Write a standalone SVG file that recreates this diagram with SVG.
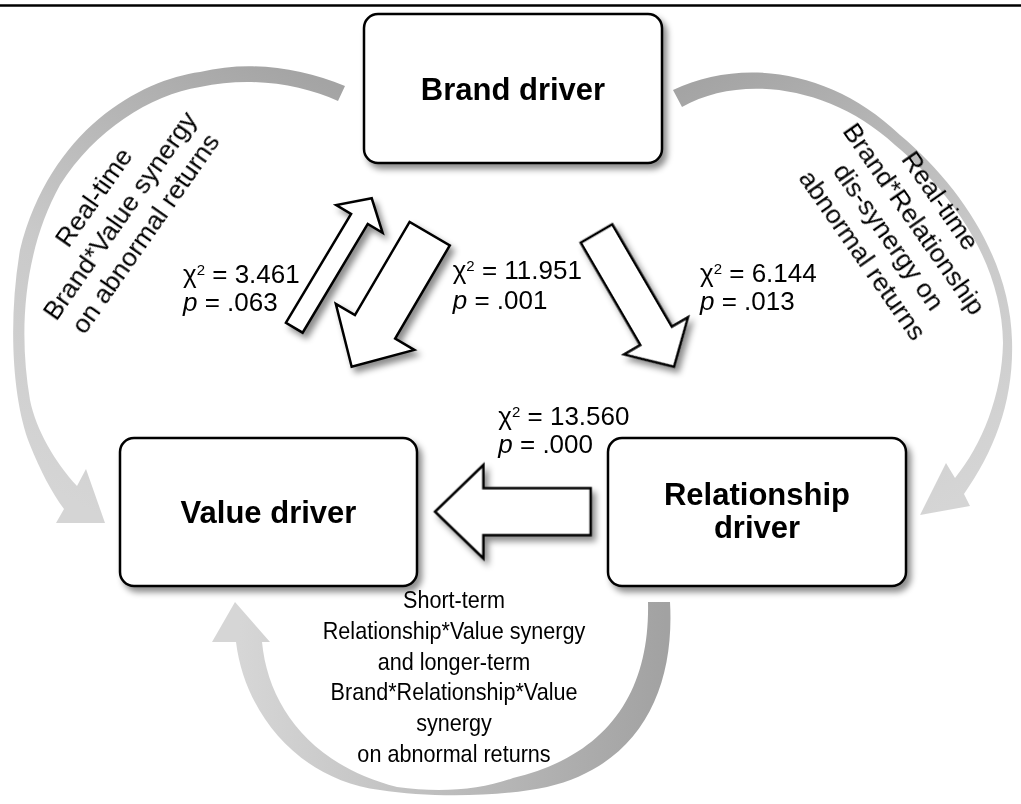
<svg xmlns="http://www.w3.org/2000/svg" width="1021" height="804" viewBox="0 0 1021 804">
<defs>
<style>
text{font-family:"Liberation Sans",Arial,sans-serif;fill:#000}
.node{fill:#fff;stroke:#000;stroke-width:2.5}
.blk{fill:#fff;stroke:#000;stroke-width:2.5;stroke-linejoin:miter}
.title{font-size:31px;font-weight:bold;text-anchor:middle}
.lab{font-size:26px}
.rot{font-size:26.5px;text-anchor:middle}
.bot{font-size:24px;text-anchor:middle}
</style>
<filter id="sh" x="-20%" y="-20%" width="150%" height="150%">
<feGaussianBlur in="SourceAlpha" stdDeviation="3"/>
<feOffset dx="4" dy="5" result="b"/>
<feFlood flood-color="#000" flood-opacity="0.45"/>
<feComposite in2="b" operator="in"/>
<feMerge><feMergeNode/><feMergeNode in="SourceGraphic"/></feMerge>
</filter>
<linearGradient id="gL" gradientUnits="userSpaceOnUse" x1="300" y1="70" x2="70" y2="500">
<stop offset="0" stop-color="#a4a4a4"/><stop offset="0.55" stop-color="#c9c9c9"/><stop offset="1" stop-color="#d5d5d5"/>
</linearGradient>
<linearGradient id="gR" gradientUnits="userSpaceOnUse" x1="720" y1="70" x2="960" y2="500">
<stop offset="0" stop-color="#a4a4a4"/><stop offset="0.55" stop-color="#c9c9c9"/><stop offset="1" stop-color="#d5d5d5"/>
</linearGradient>
<linearGradient id="gB" gradientUnits="userSpaceOnUse" x1="665" y1="600" x2="240" y2="600">
<stop offset="0" stop-color="#a2a2a2"/><stop offset="0.5" stop-color="#bcbcbc"/><stop offset="1" stop-color="#d6d6d6"/>
</linearGradient>
</defs>
<rect width="1021" height="804" fill="#fff"/>
<line x1="0" y1="5.5" x2="1021" y2="5.5" stroke="#000" stroke-width="2.5"/>

<g id="connectors">
<path id="arc-brand-value" fill="url(#gL)" d="M345,86 C300,68 250,60 200,72 C140,80 50,130 20,250 C8,320 12,400 30,445 C40,470 52,493 64,509 L56,523 L105,523 L86,469 L77,486 C55,462 36,430 30,400 C18,330 24,250 60,185 C95,130 150,95 200,87 C250,76 300,84 338,101 Z"/>
<path id="arc-brand-rel" fill="url(#gR)" d="M673,90 C740,58 830,68 900,135 C960,185 1010,260 1012,340 C1014,400 995,450 964,494 L970,506 L920,515 L946,463 L955,478 C982,445 1002,395 1003,343 C1002,265 955,195 895,145 C830,85 740,74 682,107 Z"/>
<path id="arc-rel-value" fill="url(#gB)" d="M670,602 C675,690 640,765 547,787 C500,797 430,798 380,790 C300,780 245,715 236,642 L212,642 L235,602 L270,642 L262,642 C268,705 310,765 397,787 C440,793 480,790 513,778 C610,755 650,690 648,602 Z"/>
<g filter="url(#sh)">
<polygon id="arrow-value-brand" class="blk" transform="translate(294.3,327.7) rotate(-59.1)" points="0,-9.7 126.8,-9.7 126.8,-27 150.8,0 126.8,27 126.8,9.7 0,9.7"/>
<polygon id="arrow-brand-value" class="blk" transform="translate(429.7,233.7) rotate(120.4)" points="0,-23.3 108,-23.3 108,-45.5 154.2,0 108,45.5 108,23.3 0,23.3"/>
<polygon id="arrow-brand-rel" class="blk" transform="translate(596.5,233.5) rotate(59.8)" points="0,-18.3 118.4,-18.3 118.4,-37 154.1,0 118.4,37 118.4,18.3 0,18.3"/>
<polygon id="arrow-rel-value" class="blk" transform="translate(590.7,511.7) rotate(180)" points="0,-23.4 107.3,-23.4 107.3,-46.7 155.7,0 107.3,46.7 107.3,23.4 0,23.4"/>
</g>
</g>

<g id="node-brand" filter="url(#sh)">
<rect class="node" x="364" y="14" width="298" height="149" rx="14"/>
<text class="title" x="513" y="99.5">Brand driver</text>
</g>
<g id="node-value" filter="url(#sh)">
<rect class="node" x="120" y="438" width="297" height="148" rx="14"/>
<text class="title" x="268.5" y="523">Value driver</text>
</g>
<g id="node-relationship" filter="url(#sh)">
<rect class="node" x="608" y="438" width="298" height="148" rx="14"/>
<text class="title" x="757" y="505">Relationship</text>
<text class="title" x="757" y="538">driver</text>
</g>

<g id="labels">
<text class="lab" x="183" y="283">χ<tspan font-size="15" dy="-8">2</tspan><tspan dy="8"> = 3.461</tspan></text>
<text class="lab" x="183" y="311"><tspan font-style="italic">p</tspan> = .063</text>
<text class="lab" x="452.7" y="279">χ<tspan font-size="15" dy="-8">2</tspan><tspan dy="8"> = 11.951</tspan></text>
<text class="lab" x="452.7" y="309"><tspan font-style="italic">p</tspan> = .001</text>
<text class="lab" x="700" y="282">χ<tspan font-size="15" dy="-8">2</tspan><tspan dy="8"> = 6.144</tspan></text>
<text class="lab" x="700" y="310"><tspan font-style="italic">p</tspan> = .013</text>
<text class="lab" x="498.3" y="425">χ<tspan font-size="15" dy="-8">2</tspan><tspan dy="8"> = 13.560</tspan></text>
<text class="lab" x="498.3" y="453.3"><tspan font-style="italic">p</tspan> = .000</text>

<g transform="translate(119,215) rotate(-55)">
<text class="rot" x="0" y="-22">Real-time</text>
<text class="rot" x="0" y="9.5">Brand*Value synergy</text>
<text class="rot" x="0" y="41">on abnormal returns</text>
</g>
<g transform="translate(902,227.5) rotate(55)">
<text class="rot" x="0" y="-38">Real-time</text>
<text class="rot" x="0" y="-6.3">Brand*Relationship</text>
<text class="rot" x="0" y="25.3">dis-synergy on</text>
<text class="rot" x="0" y="57">abnormal returns</text>
</g>
<g transform="translate(454,0) scale(0.9,1)">
<text class="bot" x="0" y="608">Short-term</text>
<text class="bot" x="0" y="639">Relationship*Value synergy</text>
<text class="bot" x="0" y="670">and longer-term</text>
<text class="bot" x="0" y="700">Brand*Relationship*Value</text>
<text class="bot" x="0" y="731">synergy</text>
<text class="bot" x="0" y="762">on abnormal returns</text>
</g>
</g>
</svg>
